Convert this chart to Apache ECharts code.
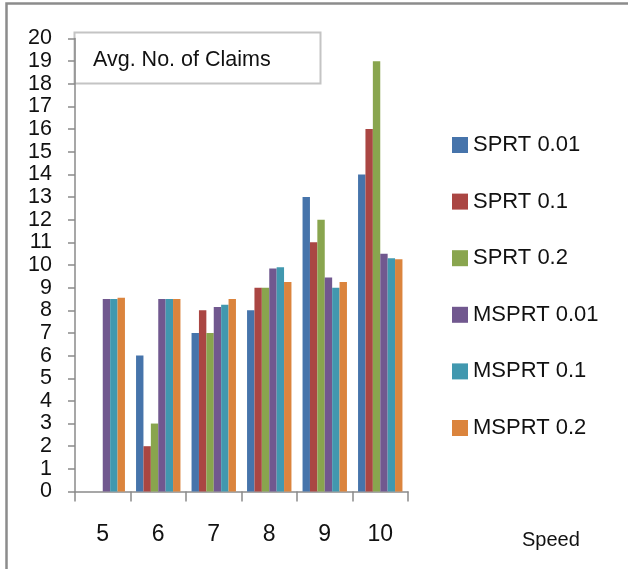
<!DOCTYPE html>
<html>
<head>
<meta charset="utf-8">
<script src="https://cdn.jsdelivr.net/npm/echarts@6/dist/echarts.min.js"></script>
<style>
html,body{margin:0;padding:0;background:#fff;}
#chart{width:628px;height:569px;}
</style>
</head>
<body>
<div id="chart"></div>
<script>
const categories = ['5', '6', '7', '8', '9', '10'];
const seriesNames = ['SPRT 0.01', 'SPRT 0.1', 'SPRT 0.2', 'MSPRT 0.01', 'MSPRT 0.1', 'MSPRT 0.2'];
const sprt001 = [0, 6, 7, 8, 13, 14];
const sprt01 = [0, 2, 8, 9, 11, 16];
const sprt02 = [0, 3, 7, 9, 12, 19];
const msprt001 = [8.5, 8.5, 8.15, 9.85, 9.45, 10.5];
const msprt01 = [8.5, 8.5, 8.25, 9.9, 9.0, 10.3];
const msprt02 = [8.55, 8.5, 8.5, 9.25, 9.25, 10.25];
const yTicks = { min: 0, max: 20, interval: 1 };
const titleText = 'Avg. No. of Claims';
const xAxisTitle = 'Speed';

const colors = ['#4674AB', '#AA4643', '#89A54E', '#71588F', '#4198AF', '#DB843D'];
const allValues = [sprt001, sprt01, sprt02, msprt001, msprt01, msprt02];
const font = 'Liberation Sans, Arial, sans-serif';

const chart = echarts.init(document.getElementById('chart'), null, { renderer: 'canvas' });
chart.setOption({
  animation: false,
  backgroundColor: '#fff',
  color: colors,
  grid: { left: 75, right: 220, top: 38.5, bottom: 77.5 },
  legend: {
    orient: 'vertical',
    left: 452,
    top: 134,
    padding: 0,
    icon: 'rect',
    itemWidth: 16,
    itemHeight: 16,
    itemGap: 34.6,
    textStyle: { fontFamily: font, fontSize: 22, color: '#111', lineHeight: 22 },
    data: seriesNames
  },
  xAxis: {
    type: 'category',
    data: categories,
    axisLine: { lineStyle: { color: '#8a8a8a', width: 1.5 } },
    axisTick: { show: true, length: 10, lineStyle: { color: '#8a8a8a', width: 1.5 } },
    axisLabel: { fontFamily: font, fontSize: 23, color: '#111', margin: 32 }
  },
  yAxis: {
    type: 'value',
    min: yTicks.min,
    max: yTicks.max,
    interval: yTicks.interval,
    splitLine: { show: false },
    axisLine: { show: true, lineStyle: { color: '#8a8a8a', width: 1.5 } },
    axisTick: { show: true, length: 7, lineStyle: { color: '#8a8a8a', width: 1.5 } },
    axisLabel: {
      fontFamily: font, fontSize: 21.5, color: '#111', margin: 23, lineHeight: 21,
      showMinLabel: true, showMaxLabel: true, hideOverlap: false
    }
  },
  series: seriesNames.map((name, i) => ({
    name: name,
    type: 'bar',
    data: allValues[i],
    barGap: '0%',
    barCategoryGap: '20%',
    itemStyle: { color: colors[i] }
  })),
  graphic: [
    {
      type: 'rect',
      shape: { x: 6.5, y: 3.5, width: 800, height: 800 },
      style: { fill: 'none', stroke: '#8c8c8c', lineWidth: 2.5 },
      z: 100
    },
    {
      type: 'group',
      z: 100,
      children: [
        {
          type: 'rect',
          shape: { x: 74.5, y: 32.5, width: 246, height: 51 },
          style: { fill: '#fff', stroke: '#c4c4c4', lineWidth: 2 }
        },
        {
          type: 'text',
          x: 93, y: 60,
          style: { text: titleText, fontFamily: font, fontSize: 21.5, fill: '#111', verticalAlign: 'middle', align: 'left' }
        }
      ]
    },
    {
      type: 'text',
      x: 522, y: 540,
      z: 100,
      style: { text: xAxisTitle, fontFamily: font, fontSize: 20, fill: '#111', verticalAlign: 'middle', align: 'left' }
    }
  ]
});
</script>
</body>
</html>
